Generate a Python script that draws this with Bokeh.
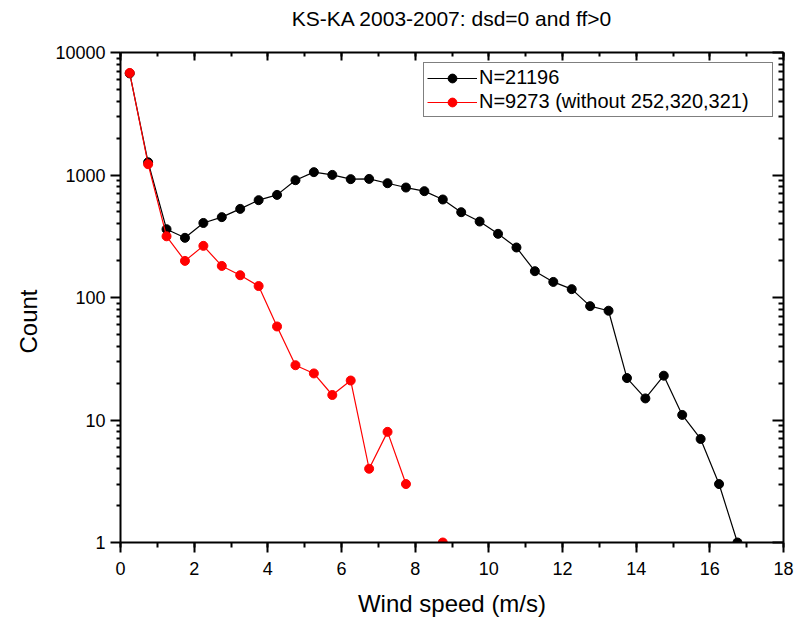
import numpy as np
from bokeh.plotting import figure
from bokeh.models import (LogAxis, LinearAxis, FixedTicker, SingleIntervalTicker,
                          Range1d, Legend, LegendItem, BasicTickFormatter,
                          CustomLabelingPolicy, Title)
from bokeh.embed import file_html
from bokeh.resources import INLINE

# ---------------- data ----------------
title_text = "KS-KA 2003-2007: dsd=0 and ff>0"
x_label = "Wind speed (m/s)"
y_label = "Count"

speed_all = [0.25, 0.75, 1.25, 1.75, 2.25, 2.75, 3.25, 3.75, 4.25, 4.75,
             5.25, 5.75, 6.25, 6.75, 7.25, 7.75, 8.25, 8.75, 9.25, 9.75,
             10.25, 10.75, 11.25, 11.75, 12.25, 12.75, 13.25, 13.75, 14.25,
             14.75, 15.25, 15.75, 16.25, 16.75]
count_all = [6750, 1270, 361, 307, 406, 453, 529, 623, 688, 907,
             1055, 1002, 925, 929, 857, 790, 738, 631, 497, 417,
             331, 256, 164, 134, 117, 85, 78, 22, 15,
             23, 11, 7, 3, 1]
label_all = "N=21196"

speed_sel = [0.25, 0.75, 1.25, 1.75, 2.25, 2.75, 3.25, 3.75, 4.25, 4.75,
             5.25, 5.75, 6.25, 6.75, 7.25, 7.75, 8.25, 8.75]
count_sel = [6810, 1225, 316, 199, 264, 181, 152, 124, 58, 28,
             24, 16, 21, 4, 8, 3, float("nan"), 1]   # nan = zero count (not drawable on log axis)
label_sel = "N=9273 (without 252,320,321)"

x_start, x_end, x_step = 0, 18, 2
y_major_ticks = [1, 10, 100, 1000, 10000]
y_tick_labels = ["1", "10", "100", "1000", "10000"]
y_minor_ticks = [m * d for d in y_major_ticks[:-1] for m in range(2, 10)]

FONT = "Liberation Sans"

p = figure(width=795, height=619,
           x_range=Range1d(x_start, x_end),
           y_range=Range1d(y_major_ticks[0], y_major_ticks[-1]),
           y_axis_type="log",
           output_backend="svg", toolbar_location=None,
           min_border_left=120, min_border_right=12,
           min_border_top=52, min_border_bottom=77,
           title=title_text)

p.grid.visible = False
p.outline_line_color = None
p.background_fill_color = "white"
p.border_fill_color = "white"

p.title.text_font = FONT
p.title.text_font_size = "21px"
p.title.text_font_style = "normal"
p.title.align = "center"
p.title.text_color = "black"
p.title.standoff = 4

# ---------------- series ----------------
l_all = p.line(np.array(speed_all), np.array(count_all, dtype=float),
               line_color="black", line_width=1.2)
s_all = p.scatter(np.array(speed_all), np.array(count_all, dtype=float),
                  marker="circle", size=9, fill_color="black", line_color="black")
l_sel = p.line(np.array(speed_sel), np.array(count_sel, dtype=float),
               line_color="#ff0000", line_width=1.2)
s_sel = p.scatter(np.array(speed_sel), np.array(count_sel, dtype=float),
                  marker="circle", size=9, fill_color="#ff0000", line_color="#ff0000")

# ---------------- axes ----------------
x_ticker = SingleIntervalTicker(interval=x_step, num_minor_ticks=2)
y_ticker = FixedTicker(ticks=y_major_ticks, minor_ticks=y_minor_ticks)

xa = p.xaxis[0]
xa.ticker = x_ticker
xa.axis_label = x_label
xa.major_label_standoff = 9
xa.axis_label_standoff = 12
xa.minor_tick_out = 5

ya = p.yaxis[0]
ya.ticker = y_ticker
ya.formatter = BasicTickFormatter(use_scientific=False)
ya.major_label_overrides = dict(zip(y_major_ticks, y_tick_labels))
ya.major_label_standoff = 5
ya.minor_tick_out = 4

for ax in (xa, ya):
    ax.axis_line_width = 2
    ax.axis_line_color = "black"
    ax.major_tick_line_width = 2
    ax.minor_tick_line_width = 2
    ax.major_tick_line_color = "black"
    ax.minor_tick_line_color = "black"
    ax.major_tick_out = 10
    ax.major_tick_in = 0
    ax.minor_tick_in = 0
    ax.major_label_text_font = FONT
    ax.major_label_text_font_size = "18px"
    ax.major_label_text_color = "black"
    ax.axis_label_text_font = FONT
    ax.axis_label_text_font_size = "24px"
    ax.axis_label_text_font_style = "normal"
    ax.axis_label_text_color = "black"

# y-axis title, placed along the left side (below centre, as in the original)
ytitle = Title(text=y_label, align="left", offset=189, standoff=22,
               text_font=FONT, text_font_size="24px", text_font_style="normal",
               text_color="black")
p.add_layout(ytitle, "left")

# mirrored frame axes (ticks only, no labels)
top = LinearAxis(ticker=SingleIntervalTicker(interval=x_step, num_minor_ticks=2),
                 major_label_policy=CustomLabelingPolicy(code="return new indices.constructor(indices.size)"),
                 major_label_text_font_size="1px", major_label_standoff=17,
                 major_tick_in=8, major_tick_out=0, minor_tick_in=4, minor_tick_out=0)
right = LogAxis(ticker=FixedTicker(ticks=y_major_ticks, minor_ticks=y_minor_ticks),
                major_label_policy=CustomLabelingPolicy(code="return new indices.constructor(indices.size)"),
                major_label_text_font_size="1px", major_label_standoff=0,
                major_tick_in=11, major_tick_out=0, minor_tick_in=5, minor_tick_out=0)
for ax in (top, right):
    ax.axis_line_width = 2
    ax.axis_line_color = "black"
    ax.major_tick_line_width = 2
    ax.minor_tick_line_width = 2
    ax.major_tick_line_color = "black"
    ax.minor_tick_line_color = "black"
p.add_layout(top, "above")
p.add_layout(right, "right")

# ---------------- legend ----------------
legend = Legend(items=[LegendItem(label=label_all, renderers=[l_all, s_all]),
                       LegendItem(label=label_sel, renderers=[l_sel, s_sel])],
                location="top_right", margin=10, padding=3, spacing=1,
                glyph_width=50, glyph_height=22, label_standoff=2,
                label_width=290, label_height=22,
                label_text_font=FONT, label_text_font_size="20px",
                label_text_color="black",
                border_line_color="black", border_line_width=1.2,
                background_fill_color="white", background_fill_alpha=1.0)
p.add_layout(legend)

open("out.html", "w").write(file_html(p, INLINE))
